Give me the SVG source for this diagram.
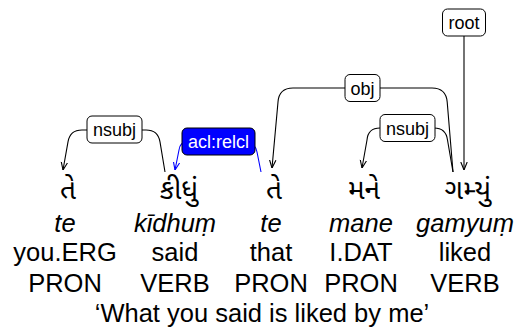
<svg xmlns="http://www.w3.org/2000/svg" width="517" height="334" viewBox="0 0 517 334">
<style>
  .w { font-family: "Liberation Sans", Arial, sans-serif; font-size: 25.5px; fill: #000; text-anchor: middle; }
  .it { font-style: italic; }
  .gu { font-family: "Noto Sans Gujarati", "Lohit Gujarati", "Noto Sans", "DejaVu Sans", sans-serif; font-size: 28px; fill: #000; text-anchor: middle; }
  .lbl { font-family: "Liberation Sans", Arial, sans-serif; font-size: 18px; fill: #000; text-anchor: middle; }
  .box { fill: #fff; stroke: #000; stroke-width: 1; }
  .edge { fill: none; stroke: #000; stroke-width: 1.1; }
  .blue { stroke: #0000ff; }
</style>
<defs>
  <marker id="ah" viewBox="0 0 10 10" refX="10" refY="5" markerWidth="8" markerHeight="8" markerUnits="userSpaceOnUse" orient="auto">
    <path d="M0,1 L10,5 L0,9" fill="none" stroke="#000" stroke-width="1.4"/>
  </marker>
  <marker id="ahb" viewBox="0 0 10 10" refX="10" refY="5" markerWidth="8" markerHeight="8" markerUnits="userSpaceOnUse" orient="auto">
    <path d="M0,1 L10,5 L0,9" fill="none" stroke="#0000ff" stroke-width="1.4"/>
  </marker>
</defs>

<g id="connectors">
  <path class="edge" d="M165,172 L160,141.8 Q158,130 146,130 L82,130 Q70,130 68,141.8 L63,170" marker-end="url(#ah)"/>
  <path class="edge blue" d="M261,172 L257,152 Q255,142 245,142 L187,142 Q180,142 179,150 L175,170" marker-end="url(#ahb)"/>
  <path class="edge" d="M453,172 L447.2,102 Q446,88 432,88 L293,88 Q279,88 278,102 L272,168" marker-end="url(#ah)"/>
  <path class="edge" d="M453,172 L447.5,140 Q446,128 434,128 L380,128 Q368,128 367,140 L362,168" marker-end="url(#ah)"/>
  <path class="edge" d="M464,36 L464,170" marker-end="url(#ah)"/>
</g>

<g id="label-nsubj1">
  <rect class="box" x="87" y="116" width="55" height="27" rx="5"/>
  <text class="lbl" x="114.5" y="136">nsubj</text>
</g>
<g id="label-aclrelcl">
  <rect x="182" y="128" width="73" height="27" rx="5" fill="#0000ff" stroke="#000" stroke-width="1"/>
  <text class="lbl" x="218.5" y="148" style="fill:#fff">acl:relcl</text>
</g>
<g id="label-obj">
  <rect class="box" x="345" y="74.5" width="35" height="27" rx="5"/>
  <text class="lbl" x="362.5" y="94.5">obj</text>
</g>
<g id="label-nsubj2">
  <rect class="box" x="380" y="114.5" width="55" height="27" rx="5"/>
  <text class="lbl" x="407.5" y="134.5">nsubj</text>
</g>
<g id="label-root">
  <rect class="box" x="442.5" y="9" width="43" height="27" rx="5"/>
  <text class="lbl" x="464" y="29">root</text>
</g>

<g id="word1">
  <text class="gu" x="68" y="199">તે</text>
  <text class="w it" x="65" y="232">te</text>
  <text class="w" x="65" y="261">you.ERG</text>
  <text class="w" x="65" y="292">PRON</text>
</g>
<g id="word2">
  <text class="gu" x="179" y="199">કીધું</text>
  <text class="w it" x="175" y="232">kīdhuṃ</text>
  <text class="w" x="175" y="261">said</text>
  <text class="w" x="175" y="292">VERB</text>
</g>
<g id="word3">
  <text class="gu" x="274" y="199">તે</text>
  <text class="w it" x="271" y="232">te</text>
  <text class="w" x="271" y="261">that</text>
  <text class="w" x="271" y="292">PRON</text>
</g>
<g id="word4">
  <text class="gu" x="364" y="199">મને</text>
  <text class="w it" x="361" y="232">mane</text>
  <text class="w" x="361" y="261">I.DAT</text>
  <text class="w" x="361" y="292">PRON</text>
</g>
<g id="word5">
  <text class="gu" x="468" y="199">ગમ્યું</text>
  <text class="w it" x="465" y="232">gamyuṃ</text>
  <text class="w" x="465" y="261">liked</text>
  <text class="w" x="465" y="292">VERB</text>
</g>
<g id="translation">
  <text class="w" x="262" y="322">‘What you said is liked by me’</text>
</g>
</svg>
